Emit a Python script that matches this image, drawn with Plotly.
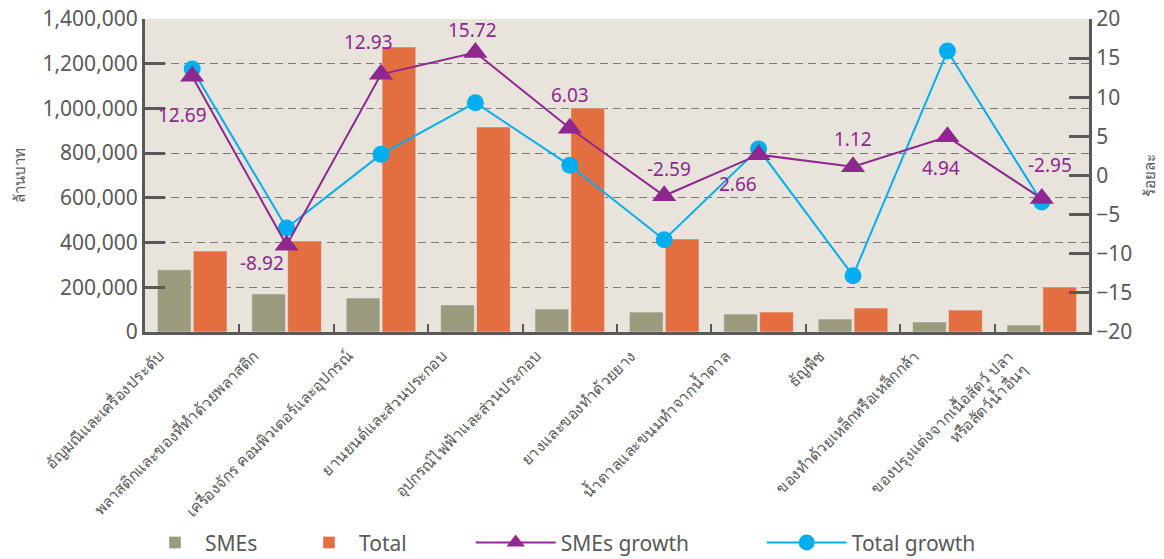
import plotly.graph_objects as go

categories = [
    "อัญมณีและเครื่องประดับ",
    "พลาสติกและของที่ทำด้วยพลาสติก",
    "เครื่องจักร คอมพิวเตอร์และอุปกรณ์",
    "ยานยนต์และส่วนประกอบ",
    "อุปกรณ์ไฟฟ้าและส่วนประกอบ",
    "ยางและของทำด้วยยาง",
    "น้ำตาลและขนมทำจากน้ำตาล",
    "ธัญพืช",
    "ของทำด้วยเหล็กหรือเหล็กกล้า",
    "ของปรุงแต่งจากเนื้อสัตว์ ปลา<br>หรือสัตว์น้ำอื่นๆ",
]
smes_value = [278000, 170000, 152000, 121000, 103000, 89000, 80000, 58000, 45000, 31000]
total_value = [362000, 407000, 1275000, 917000, 1002000, 416000, 89000, 107000, 98000, 201000]
smes_growth = [12.69, -8.92, 12.93, 15.72, 6.03, -2.59, 2.66, 1.12, 4.94, -2.95]
total_growth = [13.6, -6.7, 2.7, 9.3, 1.3, -8.2, 3.4, -12.8, 15.9, -3.4]

# label offsets (pixels) for the SMEs growth data labels
label_dx = [-10, -25, -13, -3, 0, 5, -21, 0, -6, 8]
label_dy = [-39, -18, 32, 22, 33, 27, -29, 28, -31, 34]

FONT = "Noto Sans, Tahoma, sans-serif"
GREY = "#595959"
PURPLE = "#8E278F"
BLUE = "#00AEEF"

fig = go.Figure()
fig.add_trace(go.Bar(x=categories, y=smes_value, name="SMEs", marker_color="#9C9A7C",
                     legend="legend"))
fig.add_trace(go.Bar(x=categories, y=total_value, name="Total", marker_color="#E36F41",
                     legend="legend"))
fig.add_trace(go.Scatter(x=categories, y=total_growth, name="Total growth", yaxis="y2",
                         mode="lines+markers", line=dict(color=BLUE, width=2),
                         marker=dict(symbol="circle", size=17, color=BLUE),
                         legend="legend2"))
fig.add_trace(go.Scatter(x=categories, y=smes_growth, name="SMEs growth", yaxis="y2",
                         mode="lines+markers", line=dict(color=PURPLE, width=2),
                         marker=dict(symbol="triangle-up", size=21, color=PURPLE),
                         legend="legend2"))

for c, v, dx, dy in zip(categories, smes_growth, label_dx, label_dy):
    fig.add_annotation(x=c, y=v, xref="x", yref="y2", text=f"{v:.2f}", showarrow=False,
                       xshift=dx, yshift=dy, font=dict(color=PURPLE, size=19, family=FONT))

fig.update_layout(
    width=1164, height=559,
    margin=dict(l=145, r=75, t=19, b=227),
    paper_bgcolor="white", plot_bgcolor="#E8E4DB",
    font=dict(family=FONT, color=GREY, size=16),
    barmode="group", bargap=0.24, bargroupgap=0.06,
    showlegend=True,
    legend=dict(orientation="h", x=0.0, y=0.029, xref="paper", yref="container",
                xanchor="left", yanchor="middle", itemwidth=50,
                entrywidth=89, entrywidthmode="pixels", font=dict(size=21, color=GREY),
                bgcolor="rgba(0,0,0,0)"),
    legend2=dict(orientation="h", x=0.345, y=0.029, xref="paper", yref="container",
                 xanchor="left", yanchor="middle",
                 entrywidth=196, entrywidthmode="pixels", font=dict(size=21, color=GREY),
                 bgcolor="rgba(0,0,0,0)", itemwidth=80, traceorder="reversed"),
    xaxis=dict(range=[-0.5, len(categories) - 0.5], tickangle=-45,
               tickfont=dict(size=15.5, color=GREY), showline=True,
               linecolor=GREY, linewidth=3, ticks="inside", tickson="boundaries",
               ticklen=8, tickwidth=2, tickcolor=GREY, automargin=False,
               ticklabelshift=-33, ticklabelstandoff=6),
    yaxis=dict(range=[0, 1400000], dtick=200000, tickformat=",", showline=True,
               linecolor=GREY, linewidth=3, ticks="inside", ticklen=20, tickwidth=3,
               tickcolor=GREY, tickfont=dict(size=21, color=GREY),
               showgrid=True, gridcolor="#7a7a7a", griddash="8px,5px", gridwidth=1,
               zeroline=False, automargin=False,
               title=dict(text="ล้านบาท", font=dict(size=15, color=GREY), standoff=14)),
    yaxis2=dict(range=[-20, 20], dtick=5, overlaying="y", side="right", showline=True,
                linecolor=GREY, linewidth=3, ticks="inside", ticklen=20, tickwidth=3,
                tickcolor=GREY, tickfont=dict(size=21, color=GREY), showgrid=False,
                zeroline=False, automargin=False,
                title=dict(text="ร้อยละ", font=dict(size=15, color=GREY), standoff=14)),
)

fig.write_html("out.html")
